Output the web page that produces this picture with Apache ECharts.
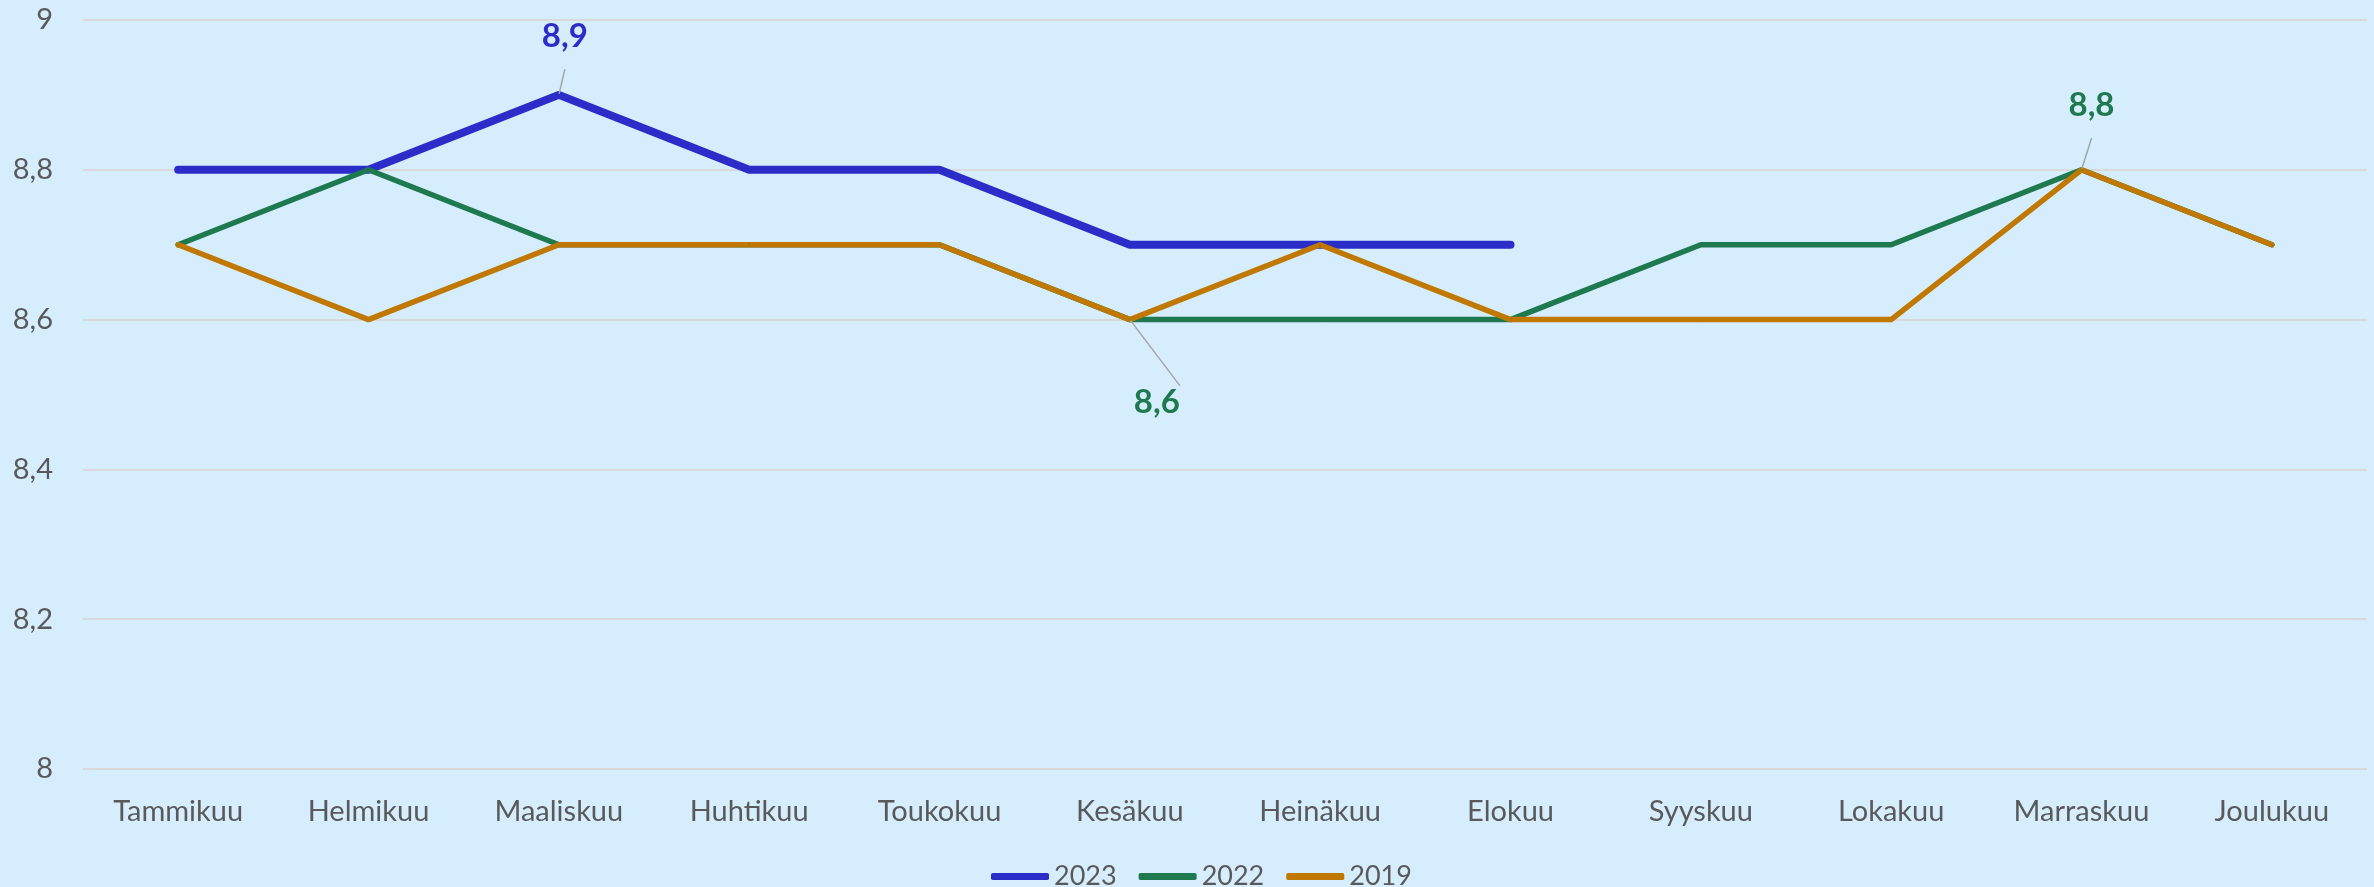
<!DOCTYPE html>
<html>
<head>
<meta charset="utf-8">
<script src="https://cdn.jsdelivr.net/npm/echarts@6/dist/echarts.min.js"></script>
<style>
html,body{margin:0;padding:0;background:#D6EDFD;}
#chart{width:2374px;height:887px;}
</style>
</head>
<body>
<div id="chart"></div>
<script>
const categories = ['Tammikuu','Helmikuu','Maaliskuu','Huhtikuu','Toukokuu','Kesäkuu','Heinäkuu','Elokuu','Syyskuu','Lokakuu','Marraskuu','Joulukuu'];
const seriesNames = ['2023','2022','2019'];
const values2023 = [8.8, 8.8, 8.9, 8.8, 8.8, 8.7, 8.7, 8.7, null, null, null, null];
const values2022 = [8.7, 8.8, 8.7, 8.7, 8.7, 8.6, 8.6, 8.6, 8.7, 8.7, 8.8, 8.7];
const values2019 = [8.7, 8.6, 8.7, 8.7, 8.7, 8.6, 8.7, 8.6, 8.6, 8.6, 8.8, 8.7];
const yTicks = [8, 8.2, 8.4, 8.6, 8.8, 9];
// which points carry a data label: [seriesIndex, dataIndex]
const labelledPoints = [[0, 2], [1, 5], [1, 10]];

// label placement styling (by seriesIndex-dataIndex)
const labelStyle = {
  '0-2':  { position: 'top',    distance: 41, offset: [6, 0] },
  '1-5':  { position: 'bottom', distance: 65, offset: [27, 0] },
  '1-10': { position: 'top',    distance: 47, offset: [10, 0] }
};

const colors = ['#2A2DC8', '#1E7A4E', '#C07800'];
const widths = [8, 5.5, 5.5];
const FONT = 'Lato';
const fmt = v => String(v).replace('.', ',');

function buildData(si, vals) {
  return vals.map((v, i) => {
    const hit = labelledPoints.find(l => l[0] === si && l[1] === i);
    if (!hit) return v;
    const st = labelStyle[si + '-' + i];
    return {
      value: v,
      label: {
        show: true,
        position: st.position,
        distance: st.distance,
        offset: st.offset,
        formatter: p => fmt(p.value),
        color: colors[si],
        fontFamily: FONT,
        fontWeight: 'bold',
        fontSize: 33
      },
      labelLine: { show: true, lineStyle: { color: '#A6A6A6', width: 1.5 } }
    };
  });
}

const allVals = [values2023, values2022, values2019];
const chart = echarts.init(document.getElementById('chart'));
chart.setOption({
  backgroundColor: '#D6EDFD',
  animation: false,
  grid: { left: 83, right: 7, top: 20, bottom: 118, containLabel: false },
  xAxis: {
    type: 'category',
    data: categories,
    boundaryGap: true,
    axisLine: { show: false },
    axisTick: { show: false },
    axisLabel: { color: '#595959', fontFamily: FONT, fontSize: 29, margin: 28, interval: 0 }
  },
  yAxis: {
    type: 'value',
    min: yTicks[0],
    max: yTicks[yTicks.length - 1],
    interval: 0.2,
    axisLine: { show: false },
    axisTick: { show: false },
    splitLine: { lineStyle: { color: '#D9D9D9', width: 2 } },
    axisLabel: { color: '#595959', fontFamily: FONT, fontSize: 29, margin: 30, formatter: v => fmt(Math.round(v * 10) / 10) }
  },
  legend: {
    top: 858,
    left: 986,
    icon: 'roundRect',
    itemWidth: 58,
    itemHeight: 7,
    itemGap: 22,
    textStyle: { color: '#595959', fontFamily: FONT, fontSize: 27 },
    data: seriesNames
  },
  series: seriesNames.map((name, si) => ({
    name: name,
    type: 'line',
    data: buildData(si, allVals[si]),
    color: colors[si],
    symbol: 'circle',
    symbolSize: 2,
    showSymbol: true,
    connectNulls: false,
    lineStyle: { color: colors[si], width: widths[si], cap: 'round', join: 'round' },
    itemStyle: { color: colors[si] },
    label: { show: false }
  }))
});
</script>
</body>
</html>
